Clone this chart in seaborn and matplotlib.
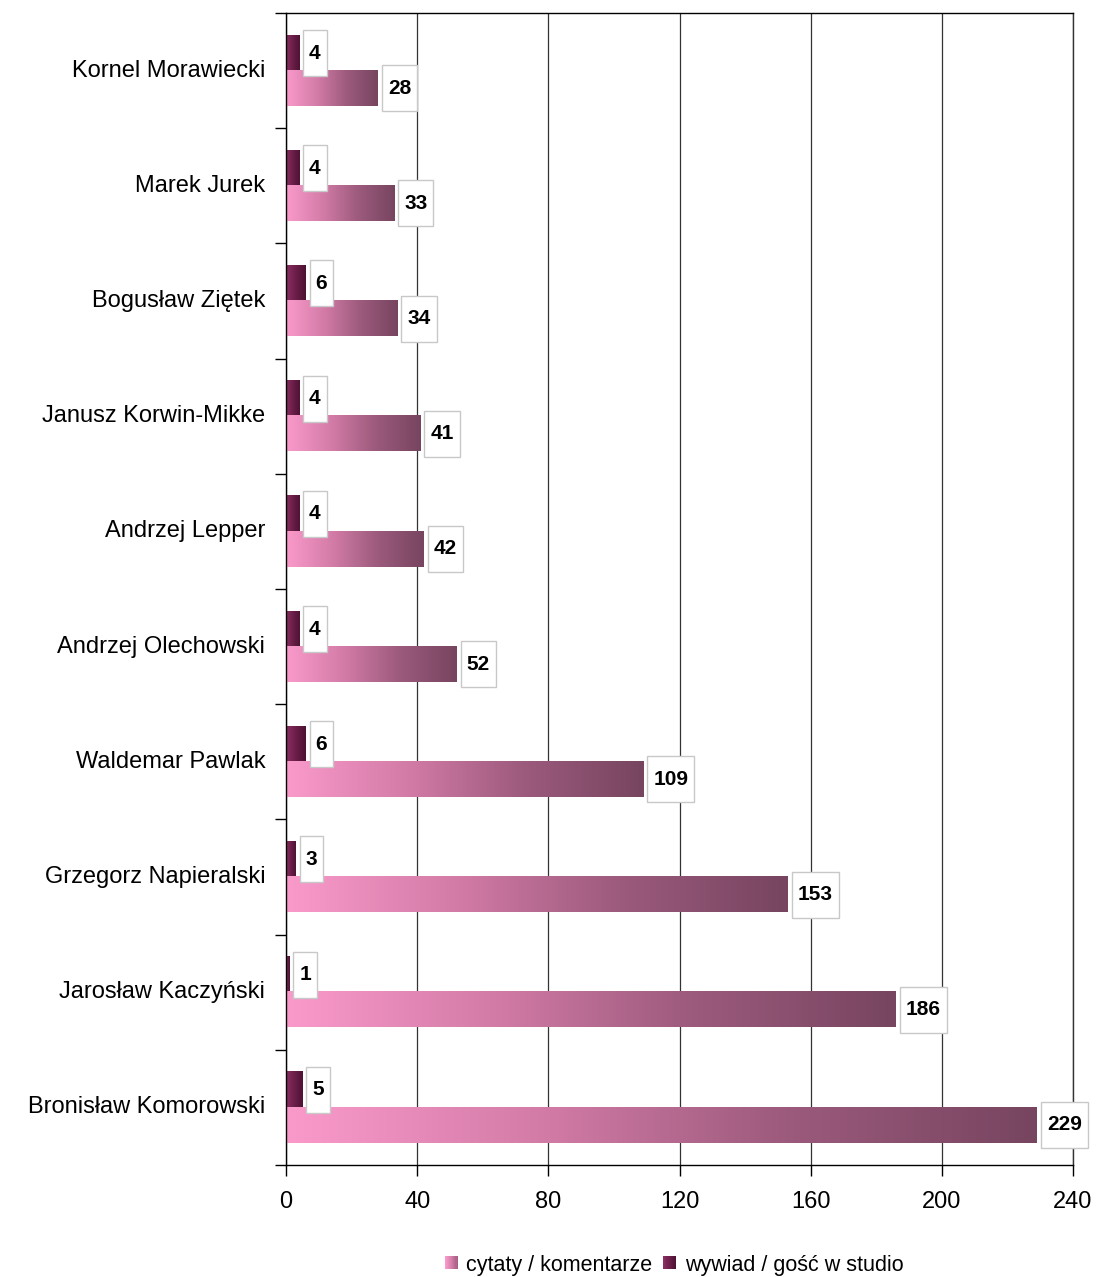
import numpy as np
import pandas as pd
import matplotlib
matplotlib.use("Agg")
import matplotlib.pyplot as plt
import seaborn as sns
from matplotlib.colors import LinearSegmentedColormap
from matplotlib.patches import Rectangle
from matplotlib.legend_handler import HandlerBase
from matplotlib.transforms import IdentityTransform

# ---- data -------------------------------------------------------------
politicians = [
    "Kornel Morawiecki", "Marek Jurek", "Bogusław Ziętek",
    "Janusz Korwin-Mikke", "Andrzej Lepper", "Andrzej Olechowski",
    "Waldemar Pawlak", "Grzegorz Napieralski", "Jarosław Kaczyński",
    "Bronisław Komorowski",
]
quotes = [28, 33, 34, 41, 42, 52, 109, 153, 186, 229]
interviews = [4, 4, 6, 4, 4, 4, 6, 3, 1, 5]
series_names = ["cytaty / komentarze", "wywiad / gość w studio"]
x_ticks = [0, 40, 80, 120, 160, 200, 240]

long = pd.concat([
    pd.DataFrame({"politician": politicians, "series": series_names[0], "value": quotes}),
    pd.DataFrame({"politician": politicians, "series": series_names[1], "value": interviews}),
], ignore_index=True)

# ---- style ------------------------------------------------------------
sns.set_theme(style="ticks")
plt.rcParams["font.family"] = ["Liberation Sans", "DejaVu Sans"]
plt.rcParams["axes.edgecolor"] = "black"
plt.rcParams["text.color"] = "black"
plt.rcParams["xtick.color"] = "black"
plt.rcParams["ytick.color"] = "black"
plt.rcParams["xtick.labelcolor"] = "black"
plt.rcParams["ytick.labelcolor"] = "black"

cmap_quotes = LinearSegmentedColormap.from_list("quotes", ["#FA9ACB", "#D47CA8", "#9C5A7C", "#774560"])
cmap_interv = LinearSegmentedColormap.from_list("interv", ["#8E2E64", "#6A1E48", "#4E1234"])
hue_order = [series_names[1], series_names[0]]
cmaps = {series_names[0]: cmap_quotes, series_names[1]: cmap_interv}

fig = plt.figure(figsize=(10.99, 12.77), dpi=100)
ax = fig.add_axes([286 / 1099, 1 - 1165 / 1277, (1073 - 286) / 1099, (1165 - 13) / 1277])

sns.barplot(
    data=long, y="politician", x="value", hue="series", order=politicians,
    hue_order=hue_order, orient="h", width=0.61, dodge=True, ax=ax,
    legend=False, palette=[cmap_interv(0.5), cmap_quotes(0.5)],
    edgecolor="none", linewidth=0, errorbar=None,
)

# gradient fill for each bar
grad = np.linspace(0, 1, 256).reshape(1, -1)
for series, container in zip(hue_order, ax.containers):
    for patch in container.patches:
        x0, y0 = patch.get_x(), patch.get_y()
        w, h = patch.get_width(), patch.get_height()
        ax.imshow(grad, extent=[x0, x0 + w, y0 + h, y0], cmap=cmaps[series],
                  aspect="auto", interpolation="bilinear", zorder=2)
        patch.set_visible(False)

ax.set_aspect("auto")
ax.set_xlim(0, 240)
ax.set_ylim(len(politicians) - 0.5, -0.5)
ax.set_xticks(x_ticks)
ax.set_xlabel("")
ax.set_ylabel("")

# frame, grid and ticks
for side in ["left", "right", "top", "bottom"]:
    ax.spines[side].set_visible(True)
    ax.spines[side].set_color("black")
    ax.spines[side].set_linewidth(1.0)
ax.spines["right"].set_color("#333333")
ax.set_axisbelow(True)
ax.xaxis.grid(True, color="#333333", linewidth=0.9)
ax.yaxis.grid(False)
ax.tick_params(axis="x", which="major", direction="out", length=8, width=1,
               color="black", labelsize=17, pad=11, labelcolor="black")
ax.set_yticks(np.arange(-0.5, len(politicians), 1), minor=True)
ax.tick_params(axis="y", which="minor", direction="out", length=8, width=1, color="black", left=True)
ax.tick_params(axis="y", which="major", length=0, labelsize=17, pad=15, labelcolor="black")
for lbl in ax.get_yticklabels():
    lbl.set_verticalalignment("center")

# value labels in white boxes
labels = []
for container in ax.containers:
    for patch, val in zip(container.patches, container.datavalues):
        yc = patch.get_y() + patch.get_height() / 2
        t = ax.annotate(f"{val:g}", xy=(patch.get_x() + patch.get_width(), yc),
                        xytext=(10, 0), textcoords="offset pixels", ha="left",
                        va="center", fontsize=15, fontweight="bold",
                        color="black", zorder=7, annotation_clip=False)
        labels.append((t, yc))

fig.canvas.draw()
renderer = fig.canvas.get_renderer()
for t, yc in labels:
    ext = t.get_window_extent(renderer)
    ypix = ax.transData.transform((0, yc))[1]
    ax.add_artist(Rectangle((ext.x0 - 6, ypix - 23), ext.width + 12, 46,
                            transform=IdentityTransform(), facecolor="white",
                            edgecolor="#C8C8C8", linewidth=1, zorder=6, clip_on=False))


# legend with gradient swatches
class GradientSwatch(HandlerBase):
    def __init__(self, cmap, stop=1.0):
        super().__init__()
        self.cmap = cmap
        self.stop = stop

    def create_artists(self, legend, orig_handle, xdescent, ydescent, width, height, fontsize, trans):
        n = 12
        s = min(width, height)
        return [Rectangle((-xdescent + i * s / n, -ydescent + (height - s) / 2), s / n + 0.05, s,
                          facecolor=self.cmap(self.stop * i / (n - 1)), edgecolor="none",
                          linewidth=0, transform=trans) for i in range(n)]


h_q = Rectangle((0, 0), 1, 1)
h_i = Rectangle((0, 0), 1, 1)
fig.legend([h_q, h_i], series_names,
           handler_map={h_q: GradientSwatch(cmap_quotes, 0.6), h_i: GradientSwatch(cmap_interv)},
           loc="center", bbox_to_anchor=(674 / 1099, 1 - 1265 / 1277), ncol=2, frameon=False,
           fontsize=15.5, handlelength=0.6, handleheight=0.6, handletextpad=0.4,
           columnspacing=0.5, borderaxespad=0, labelcolor="black")

fig.savefig("out.png", dpi=100)
